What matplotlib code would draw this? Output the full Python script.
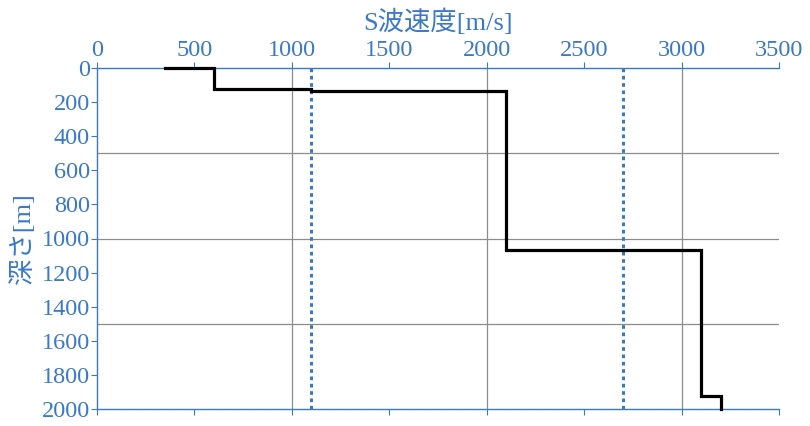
import matplotlib.pyplot as plt
from matplotlib.ticker import MultipleLocator

# S-wave velocity profile (velocity, depth) step points
vs = [350, 600, 600, 1100, 1100, 2100, 2100, 3100, 3100, 3200, 3200]
depth = [0, 0, 125, 125, 135, 135, 1070, 1070, 1925, 1925, 2000]
ref_vs = [1100, 2700]

blue = '#3a78c8'
fonts = ['Liberation Serif', 'Noto Sans CJK JP']

fig = plt.figure(figsize=(8.1, 4.26), dpi=100)
ax = fig.add_axes([97 / 810, 1 - 409 / 426, (779 - 97) / 810, (409 - 68) / 426])

ax.plot(vs, depth, color='black', lw=2.3, solid_joinstyle='miter',
        zorder=3, clip_on=False)
for v in ref_vs:
    ax.axvline(v, color=blue, lw=2.2, ls=(0, (1.2, 1.2)), zorder=2)

ax.set_xlim(0, 3500)
ax.set_ylim(2000, 0)
ax.xaxis.set_major_locator(MultipleLocator(500))
ax.yaxis.set_major_locator(MultipleLocator(200))

for v in (1000, 2000, 3000):
    ax.axvline(v, color='#8c8c8c', lw=0.9, zorder=1)
for d in (500, 1000, 1500):
    ax.axhline(d, color='#8c8c8c', lw=0.9, zorder=1)

ax.xaxis.tick_top()
ax.xaxis.set_label_position('top')
ax.tick_params(axis='x', which='both', top=True, bottom=True, direction='out',
               length=4, color=blue, labelcolor=blue, labelsize=17.5, pad=1)
ax.tick_params(axis='y', direction='out', length=4, color=blue,
               labelcolor=blue, labelsize=17.5, pad=1)
for lab in ax.get_xticklabels() + ax.get_yticklabels():
    lab.set_family(fonts)

for side in ('top', 'bottom', 'left'):
    ax.spines[side].set_color(blue)
    ax.spines[side].set_linewidth(1.0)
ax.spines['right'].set_visible(False)

ax.set_xlabel('S波速度[m/s]', color=blue, fontsize=19, family=fonts, labelpad=7)
ax.set_ylabel('深さ[m]', color=blue, fontsize=19, family=fonts, labelpad=5)

fig.savefig('out.png', dpi=100)
